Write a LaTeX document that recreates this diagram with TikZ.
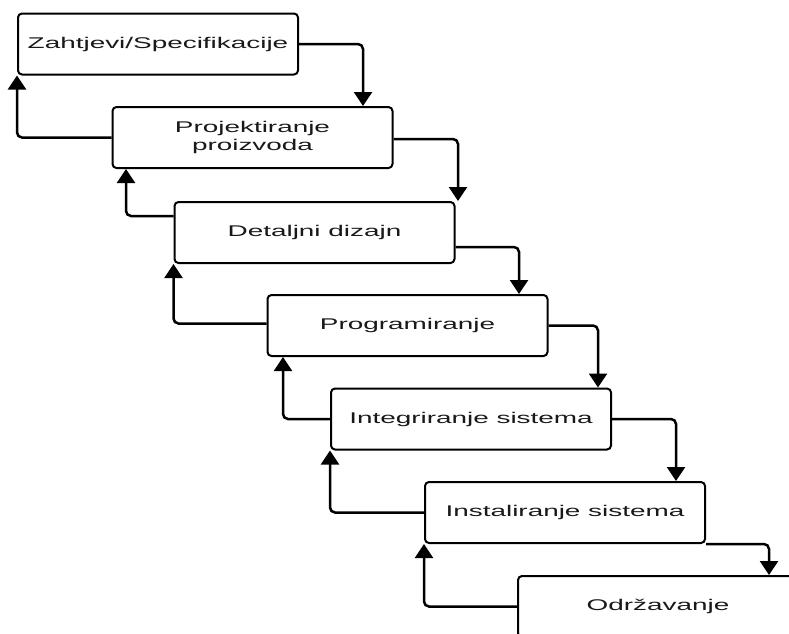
\documentclass[tikz,border=0pt]{standalone}
\usepackage{fontspec}
\setmainfont[FakeStretch=1.8]{Liberation Sans}
\usetikzlibrary{arrows.meta}

\tikzstyle{stage}=[draw=black,line width=2pt,rounded corners=4pt,fill=white,minimum width=280pt,minimum height=61pt,inner sep=0pt,align=center,text=black!90,font=\fontsize{15.5}{17.5}\selectfont]
\tikzstyle{flow}=[line width=2.5pt,rounded corners=5pt,-{Triangle[width=18pt,length=14pt]}]

\begin{document}
\begin{tikzpicture}[x=1pt,y=-1pt]
		\useasboundingbox (0,0) rectangle (789,633);
		\clip (0,0) rectangle (789,633);
		% the stages, one step lower and further right each time
		\node[stage] (z) at (158,44) {Zahtjevi/Specifikacije};
		\node[stage] (p) at (252.5,137.5) {Projektiranje\\proizvoda};
		\node[stage] (d) at (314.5,232.5) {Detaljni dizajn};
		\node[stage] (pr) at (407.5,325.5) {Programiranje};
		\node[stage] (i) at (471,419) {Integriranje sistema};
		\node[stage] (is) at (565,512.5) {Instaliranje sistema};
		\node[stage] (o) at (658,606.5) {Održavanje};
		% forward steps
		\draw[flow] (z.east) -| ([xshift=-30.5pt]p.north east);
		\draw[flow] ([yshift=-1.5pt]p.east) -| ([xshift=2.5pt]d.north east);
		\draw[flow] ([yshift=-14.5pt]d.east) -| ([xshift=-29.5pt]pr.north east);
		\draw[flow] (pr.east) -| ([xshift=-14pt]i.north east);
		\draw[flow] (i.east) -| ([xshift=-30pt]is.north east);
		\draw[flow] (is.south east) -| ([xshift=-30pt]o.north east);
		% feedback steps
		\draw[flow] (p.west) -| (z.south west);
		\draw[flow] ([yshift=16.5pt]d.west) -| ([xshift=14.5pt]p.south west);
		\draw[flow] ([yshift=2pt]pr.west) -| (d.south west);
		\draw[flow] (i.west) -| ([xshift=16.5pt]pr.south west);
		\draw[flow] (is.west) -| (i.south west);
		\draw[flow] (o.west) -| (is.south west);
\end{tikzpicture}
\end{document}
